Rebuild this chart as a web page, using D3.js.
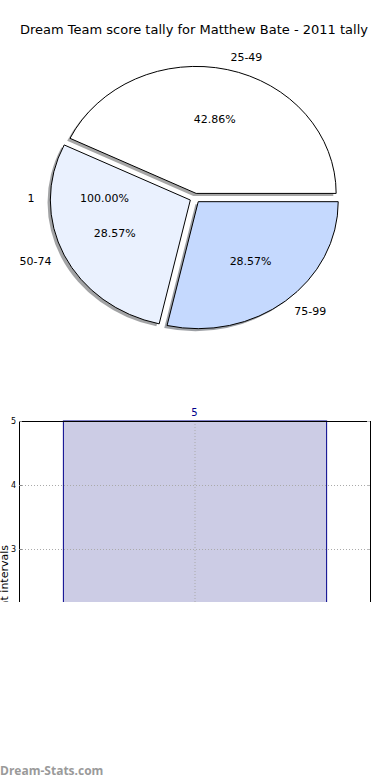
<!DOCTYPE html>
<html>
<head>
<meta charset="utf-8">
<script src="https://cdn.jsdelivr.net/npm/d3@7"></script>
<style>
  body { margin: 0; background: #fff; }
  svg { display: block; font-family: "DejaVu Sans", sans-serif; }
</style>
</head>
<body>
<div id="chart"></div>
<script>
// pie data (score ranges and how many games fell in each)
var pieLabels = ["25-49", "50-74", "75-99"];
var pieCounts = [3, 2, 2];
var pieColors = ["#ffffff", "#eaf1fe", "#c5d9fe"];

// second, single-wedge pie drawn on the same axes (only its texts show)
var extraLabels = ["1"];
var extraCounts = [1];

// bar chart
var barLabels = ["5"];
var barValues = [5];
var yTicks = [0, 1, 2, 3, 4, 5];

var W = 390, H = 780;

var svg = d3.select("#chart").append("svg")
    .attr("width", W)
    .attr("height", H);

svg.append("text")
    .attr("x", 194)
    .attr("y", 34)
    .attr("text-anchor", "middle")
    .style("font-size", "13px")
    .text("Dream Team score tally for Matthew Bate - 2011 tally");

// ---------- pie ----------
var cx = 195, cy = 198, rx = 140, ry = 127;
var explode = 0.037;

// matplotlib style: start at 3 o'clock, go counter-clockwise
var pie = d3.pie().sort(null)
    .startAngle(Math.PI / 2)
    .endAngle(Math.PI / 2 - 2 * Math.PI);

var arc = d3.arc().innerRadius(0).outerRadius(rx);

var total = d3.sum(pieCounts);
var slices = pie(pieCounts).map(function(d, i) {
    var mid = (d.startAngle + d.endAngle) / 2;
    var ux = Math.sin(mid), uy = -Math.cos(mid);
    return {
        arc: d,
        label: pieLabels[i],
        color: pieColors[i],
        pct: (100 * pieCounts[i] / total).toFixed(2) + "%",
        ux: ux, uy: uy,
        ox: cx + ux * explode * rx,
        oy: cy + uy * explode * ry
    };
});

function darker(c) {
    var col = d3.rgb(c);
    return d3.rgb(col.r * 0.3, col.g * 0.3, col.b * 0.3).toString();
}

var pieG = svg.append("g");

// shadows first
pieG.selectAll(".shadow")
    .data(slices)
    .enter().append("path")
    .attr("class", "shadow")
    .attr("transform", function(d) {
        return "translate(" + (d.ox - 2.8) + "," + (d.oy + 2.5) + ") scale(1," + (ry / rx) + ")";
    })
    .attr("d", function(d) { return arc(d.arc); })
    .attr("fill", function(d) { return darker(d.color); })
    .attr("opacity", 0.5);

pieG.selectAll(".wedge")
    .data(slices)
    .enter().append("path")
    .attr("class", "wedge")
    .attr("transform", function(d) {
        return "translate(" + d.ox + "," + d.oy + ") scale(1," + (ry / rx) + ")";
    })
    .attr("d", function(d) { return arc(d.arc); })
    .attr("fill", function(d) { return d.color; })
    .attr("stroke", "#000")
    .attr("stroke-width", 1)
    .attr("vector-effect", "non-scaling-stroke")
    .attr("stroke-linejoin", "miter");

function addPieTexts(data, expl) {
    data.forEach(function(d) {
        var ox = cx + d.ux * expl * rx, oy = cy + d.uy * expl * ry;
        var lx = ox + d.ux * 1.1 * rx, ly = oy + d.uy * 1.1 * ry;
        pieG.append("text")
            .attr("x", lx)
            .attr("y", ly)
            .attr("dy", "0.35em")
            .attr("text-anchor", lx > cx ? "start" : "end")
            .style("font-size", "11px")
            .text(d.label);
        pieG.append("text")
            .attr("x", ox + d.ux * 0.6 * rx)
            .attr("y", oy + d.uy * 0.6 * ry)
            .attr("dy", "0.35em")
            .attr("text-anchor", "middle")
            .style("font-size", "11px")
            .text(d.pct);
    });
}

var extraTotal = d3.sum(extraCounts);
var extra = pie(extraCounts).map(function(d, i) {
    var mid = (d.startAngle + d.endAngle) / 2;
    return {
        label: extraLabels[i],
        pct: (100 * extraCounts[i] / extraTotal).toFixed(2) + "%",
        ux: Math.sin(mid), uy: -Math.cos(mid)
    };
});

addPieTexts(extra, 0.047);
addPieTexts(slices, explode);

// ---------- bar chart ----------
var axL = 19, axR = 370, axT = 421, axB = 741, clipBottom = 602;

svg.append("clipPath").attr("id", "cut")
    .append("rect")
    .attr("x", -10).attr("y", 380)
    .attr("width", W + 20).attr("height", clipBottom - 380);

var barG = svg.append("g").attr("clip-path", "url(#cut)");

var x = d3.scaleLinear().domain([0, 1]).range([axL, axR]);
var y = d3.scaleLinear().domain([0, 5]).range([axB, axT]);

// bar
barG.selectAll(".bar")
    .data(barValues)
    .enter().append("rect")
    .attr("x", x(0.125) + 0.5)
    .attr("width", x(0.875) - x(0.125))
    .attr("y", function(d) { return y(d); })
    .attr("height", function(d) { return y(0) - y(d); })
    .attr("fill", "#ccccE5")
    .attr("stroke", "#00008b")
    .attr("stroke-width", 1);

// grid
barG.selectAll(".hgrid")
    .data(yTicks.filter(function(t) { return t > 0 && t < 5; }))
    .enter().append("line")
    .attr("x1", axL).attr("x2", axR)
    .attr("y1", function(d) { return y(d) + 0.5; })
    .attr("y2", function(d) { return y(d) + 0.5; })
    .attr("stroke", "#aaa")
    .attr("stroke-dasharray", "1,2");

barG.append("line")
    .attr("x1", x(0.5) + 0.5).attr("x2", x(0.5) + 0.5)
    .attr("y1", axT).attr("y2", axB)
    .attr("stroke", "#aaa")
    .attr("stroke-dasharray", "1,2");

// frame
barG.append("rect")
    .attr("x", axL + 0.5).attr("y", axT + 0.5)
    .attr("width", axR - axL).attr("height", axB - axT)
    .attr("fill", "none")
    .attr("stroke", "#000")
    .attr("stroke-width", 1);

// y ticks
var yAxis = d3.axisLeft(y).tickValues(yTicks).tickSize(0).tickPadding(3)
    .tickFormat(d3.format("d"));
barG.append("g")
    .attr("transform", "translate(" + axL + ",0)")
    .call(yAxis)
    .call(function(g) {
        g.select(".domain").remove();
        g.selectAll("text").style("font-size", "8px")
            .style("font-family", "DejaVu Sans, sans-serif").attr("fill", "#000");
    });

// small inner tick marks
barG.selectAll(".tl").data(yTicks).enter().append("line")
    .attr("x1", axL).attr("x2", axL + 3)
    .attr("y1", function(d) { return y(d) + 0.5; })
    .attr("y2", function(d) { return y(d) + 0.5; })
    .attr("stroke", "#888");
barG.selectAll(".tr").data(yTicks).enter().append("line")
    .attr("x1", axR - 3).attr("x2", axR)
    .attr("y1", function(d) { return y(d) + 0.5; })
    .attr("y2", function(d) { return y(d) + 0.5; })
    .attr("stroke", "#bbb");

// value label above bar
svg.selectAll(".vlab")
    .data(barValues)
    .enter().append("text")
    .attr("x", x(0.5))
    .attr("y", function(d) { return y(d) - 5; })
    .attr("text-anchor", "middle")
    .attr("fill", "#00008b")
    .style("font-size", "10px")
    .text(function(d, i) { return barLabels[i]; });

// y axis title (cut off at the left edge)
barG.append("text")
    .attr("transform", "translate(8,545) rotate(-90)")
    .attr("text-anchor", "end")
    .style("font-size", "11px")
    .text("Number of scores at intervals");

// watermark
svg.append("text")
    .attr("x", 0)
    .attr("y", 775)
    .attr("fill", "#9a9a9a")
    .style("font-family", "'Open Sans', sans-serif")
    .style("font-weight", "bold")
    .style("font-size", "12px")
    .text("Dream-Stats.com");
</script>
</body>
</html>
